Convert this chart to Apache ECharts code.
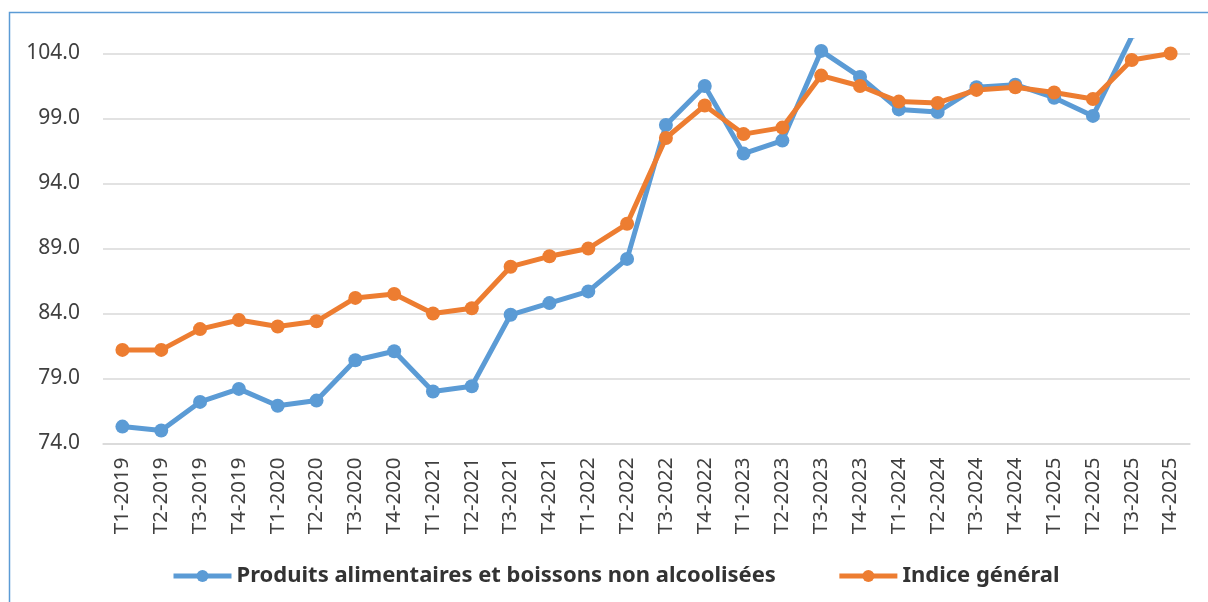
<!DOCTYPE html>
<html>
<head>
<meta charset="utf-8">
<script src="https://cdn.jsdelivr.net/npm/echarts@6/dist/echarts.min.js"></script>
<style>
    html, body { margin: 0; padding: 0; background: #ffffff; }
    #chart { width: 1208px; height: 602px; }
</style>
</head>
<body>
<div id="chart"></div>
<script>
// Quarters shown on the x axis
var quarters = [
    'T1-2019', 'T2-2019', 'T3-2019', 'T4-2019',
    'T1-2020', 'T2-2020', 'T3-2020', 'T4-2020',
    'T1-2021', 'T2-2021', 'T3-2021', 'T4-2021',
    'T1-2022', 'T2-2022', 'T3-2022', 'T4-2022',
    'T1-2023', 'T2-2023', 'T3-2023', 'T4-2023',
    'T1-2024', 'T2-2024', 'T3-2024', 'T4-2024',
    'T1-2025', 'T2-2025', 'T3-2025', 'T4-2025'
];

// Food and non alcoholic drinks index (last two run off the top of the chart)
var foodIndex = [
    75.3, 75.0, 77.2, 78.2,
    76.9, 77.3, 80.4, 81.1,
    78.0, 78.4, 83.9, 84.8,
    85.7, 88.2, 98.5, 101.5,
    96.3, 97.3, 104.2, 102.2,
    99.7, 99.5, 101.4, 101.6,
    100.6, 99.2, 105.3, 106.4
];

// General index
var generalIndex = [
    81.2, 81.2, 82.8, 83.5,
    83.0, 83.4, 85.2, 85.5,
    84.0, 84.4, 87.6, 88.4,
    89.0, 90.9, 97.5, 100.0,
    97.8, 98.3, 102.3, 101.5,
    100.3, 100.2, 101.2, 101.4,
    101.0, 100.5, 103.5, 104.0
];

var seriesNames = ['Produits alimentaires et boissons non alcoolisées', 'Indice général'];
var seriesColors = ['#5b9bd5', '#ed7d31'];

var chart = echarts.init(document.getElementById('chart'), null, { renderer: 'canvas' });

function lineSeries(name, data, color) {
    return {
        name: name,
        type: 'line',
        data: data,
        symbol: 'circle',
        symbolSize: 14,
        clip: true,
        animation: false,
        lineStyle: { color: color, width: 5 },
        itemStyle: { color: color, borderWidth: 0 }
    };
}

chart.setOption({
    animation: false,
    graphic: [{
        type: 'rect',
        shape: { x: 9.5, y: 12.5, width: 1400, height: 800 },
        style: { fill: 'none', stroke: '#5b9bd5', lineWidth: 1.5 },
        silent: true
    }],
    grid: {
        left: 103,
        right: 18,
        top: 40.5,
        bottom: 158.5
    },
    legend: {
        left: 166,
        top: 560,
        itemWidth: 58,
        itemHeight: 15,
        itemGap: 61,
        data: seriesNames,
        lineStyle: { width: 5 },
        textStyle: {
            fontFamily: 'Noto Sans',
            fontWeight: 'bold',
            fontSize: 22,
            color: '#333333'
        }
    },
    xAxis: {
        type: 'category',
        data: quarters,
        boundaryGap: true,
        axisLine: { show: true, lineStyle: { color: '#d9d9d9', width: 1.5 } },
        axisTick: { show: false },
        axisLabel: {
            rotate: 90,
            interval: 0,
            margin: 14,
            fontFamily: 'Noto Sans',
            fontSize: 20.5,
            color: '#404040'
        }
    },
    yAxis: {
        type: 'value',
        min: 74,
        max: 105,
        interval: 5,
        axisLine: { show: false },
        axisTick: { show: false },
        axisLabel: {
            margin: 23,
            showMaxLabel: false,
            fontFamily: 'Noto Sans',
            fontSize: 21,
            color: '#404040',
            formatter: function(v) {
                return v > 104.5 ? '' : v.toFixed(1);
            }
        },
        splitLine: {
            show: true,
            showMaxLine: false,
            lineStyle: { color: '#d9d9d9', width: 1.5 }
        }
    },
    series: [
        lineSeries(seriesNames[0], foodIndex, seriesColors[0]),
        lineSeries(seriesNames[1], generalIndex, seriesColors[1])
    ]
});
</script>
</body>
</html>
